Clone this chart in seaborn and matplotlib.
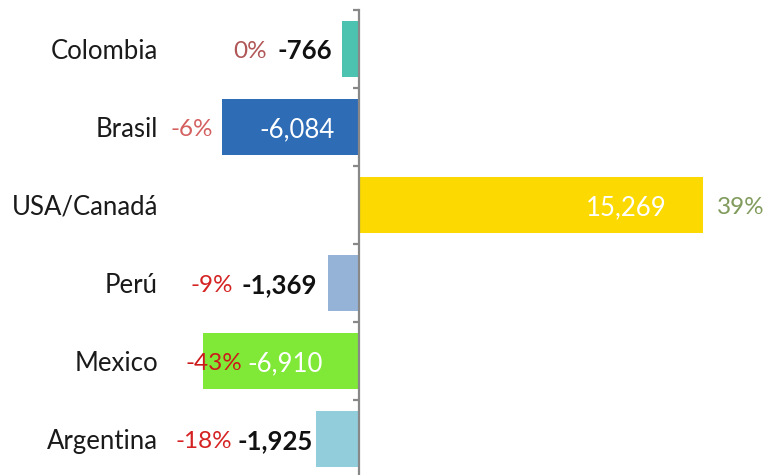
import matplotlib
matplotlib.use("Agg")
import matplotlib.pyplot as plt
import matplotlib.transforms as mtransforms
import seaborn as sns

# data
countries = ["Colombia", "Brasil", "USA/Canadá", "Perú", "Mexico", "Argentina"]
values = [-766, -6084, 15269, -1369, -6910, -1925]
pct_labels = ["0%", "-6%", "39%", "-9%", "-43%", "-18%"]
bar_colors = ["#4cc3b0", "#2e6db6", "#fcd900", "#95b3d7", "#80e938", "#92cddc"]

# label styling
value_colors = ["#111111", "white", "white", "#111111", "white", "#111111"]
value_weights = ["bold", "normal", "normal", "bold", "normal", "bold"]
pct_colors = ["#b05656", "#d56060", "#809b5c", "#d52222", "#cc1a1a", "#d52222"]
# right edge of the value label / pct label, pixels from the zero line
value_offsets = [-27, -24, 308, -42, -36, -46]
pct_offsets = [-92, -146, 358, -126, -117, -127]

sns.set_theme(style="white")
plt.rcParams["font.family"] = ["Lato", "DejaVu Sans"]

fig = plt.figure(figsize=(7.67, 4.75), dpi=100)
ax = fig.add_axes([0, -3 / 475, 1, 468 / 475])

sns.barplot(x=values, y=countries, hue=countries, palette=bar_colors,
            orient="h", width=0.73, saturation=1, legend=False,
            linewidth=0, ax=ax)

px = 44.4
ax.set_xlim(-359 * px, 408 * px)
ax.set_ylim(5.5, -0.5)

for s in ["top", "right", "bottom"]:
    ax.spines[s].set_visible(False)
ax.spines["left"].set_position(("data", 0))
ax.spines["left"].set_color("#888888")
ax.spines["left"].set_linewidth(1.6)
ax.set_xticks([])
ax.set_yticks([i - 0.5 for i in range(len(countries) + 1)])
ax.set_yticklabels([])
ax.tick_params(axis="y", direction="out", length=4, width=1.6,
               color="#888888", left=True)
ax.set_xlabel("")
ax.set_ylabel("")

trans = mtransforms.blended_transform_factory(ax.transAxes, ax.transData)
for i, name in enumerate(countries):
    ax.text(158 / 767, i, name, transform=trans, ha="right",
            va="center_baseline", fontsize=18.5, color="#1a1a1a")

for i, v in enumerate(values):
    ax.annotate(f"{v:,}", xy=(0, i), xytext=(value_offsets[i], 0),
                textcoords="offset pixels", ha="right", va="center_baseline",
                fontsize=18.5, color=value_colors[i],
                fontweight=value_weights[i])
    pha = "left" if v > 0 else "right"
    ax.annotate(pct_labels[i], xy=(0, i), xytext=(pct_offsets[i], 0),
                textcoords="offset pixels", ha=pha, va="center_baseline",
                fontsize=17.5, color=pct_colors[i])

fig.savefig("out.png", dpi=100)
